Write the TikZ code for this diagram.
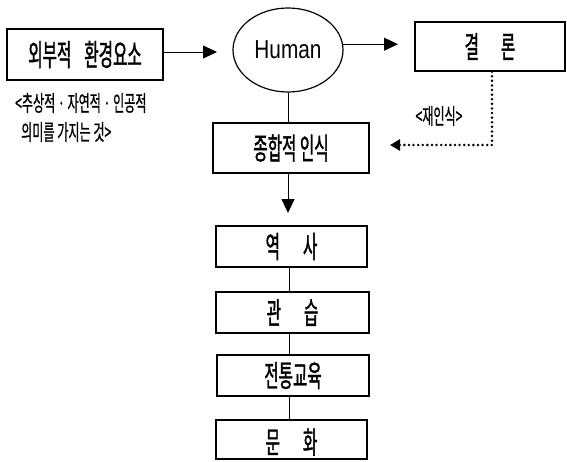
\documentclass[tikz,border=0pt]{standalone}
\usepackage{fontspec}
\newfontfamily\kr{Noto Sans CJK KR}[FakeStretch=0.52,FakeBold=1.2]
\newfontfamily\krs{Noto Sans CJK KR}[FakeStretch=0.55,FakeBold=0.6]
\newfontfamily\hum{Liberation Sans}[FakeStretch=0.8]
\usetikzlibrary{arrows.meta,shapes.geometric}
\begin{document}
\begin{tikzpicture}[x=1pt,y=-1pt,
  bx/.style={draw, line width=1.3pt, rectangle, inner sep=0pt, font=\kr\fontsize{30}{30}\selectfont},
  conn/.style={line width=0.9pt},
  arr/.style={line width=0.9pt,-{Triangle[length=14pt,width=13pt]}},
  dotline/.style={line width=2.8pt, line cap=round, dash pattern=on 0pt off 4.6pt, -{Triangle[length=10pt,width=11pt]}},
  note/.style={inner sep=0pt, font=\krs\fontsize{22}{22}\selectfont},
]
\useasboundingbox (0,0) rectangle (567,461);

\node[bx, minimum width=156pt, minimum height=51pt] (ext) at (85,54.5) {외부적\hspace{13pt}환경요소};
\node[draw, ellipse, line width=1.2pt, minimum width=110pt, minimum height=84pt, inner sep=0pt,
      font=\hum\fontsize{26}{26}\selectfont] (hum) at (288,50) {Human};
\node[bx, minimum width=150pt, minimum height=49pt] (con) at (490,46.5) {결\hspace{22pt}론};
\node[bx, minimum width=156pt, minimum height=50pt] (syn) at (291,148) {종합적 인식};
\node[bx, minimum width=151pt, minimum height=41pt] (his) at (291.5,246.5) {역\hspace{23pt}사};
\node[bx, minimum width=153pt, minimum height=41pt] (cus) at (292.5,312.5) {관\hspace{23pt}습};
\node[bx, minimum width=152pt, minimum height=41pt] (tra) at (293,375.5) {전통교육};
\node[bx, minimum width=151pt, minimum height=39pt] (cul) at (291.5,439.5) {};
\node[inner sep=0pt, font=\kr\fontsize{30}{30}\selectfont] (cult) at (291.5,442) {문\hspace{23pt}화};

\node[note, anchor=west] (n1) at (15,103) {<추상적 · 자연적 · 인공적};
\node[note, anchor=west] (n2) at (21,132) {의미를 가지는 것>};
\node[note] (re) at (439,116) {<재인식>};

\coordinate (a1) at (217,52);
\coordinate (a2) at (398,0);
\coordinate (a3) at (288,213);
\coordinate (lx) at (289,0);
\coordinate (d1) at (492,145);
\coordinate (d2) at (390,145);

\draw[arr] (ext.east |- a1) -- (a1);
\draw[arr] (hum.6) -- (hum.6 -| a2);
\draw[conn] (hum.south) -- (hum.south |- syn.north);
\draw[arr] (a3 |- syn.south) -- (a3);
\draw[conn] (his.south -| lx) -- (cus.north -| lx);
\draw[conn] (cus.south -| lx) -- (tra.north -| lx);
\draw[conn] (tra.south -| lx) -- (cul.north -| lx);
\draw[dotline] (con.south -| d1) -- (d1) -- (d2);
\end{tikzpicture}
\end{document}
